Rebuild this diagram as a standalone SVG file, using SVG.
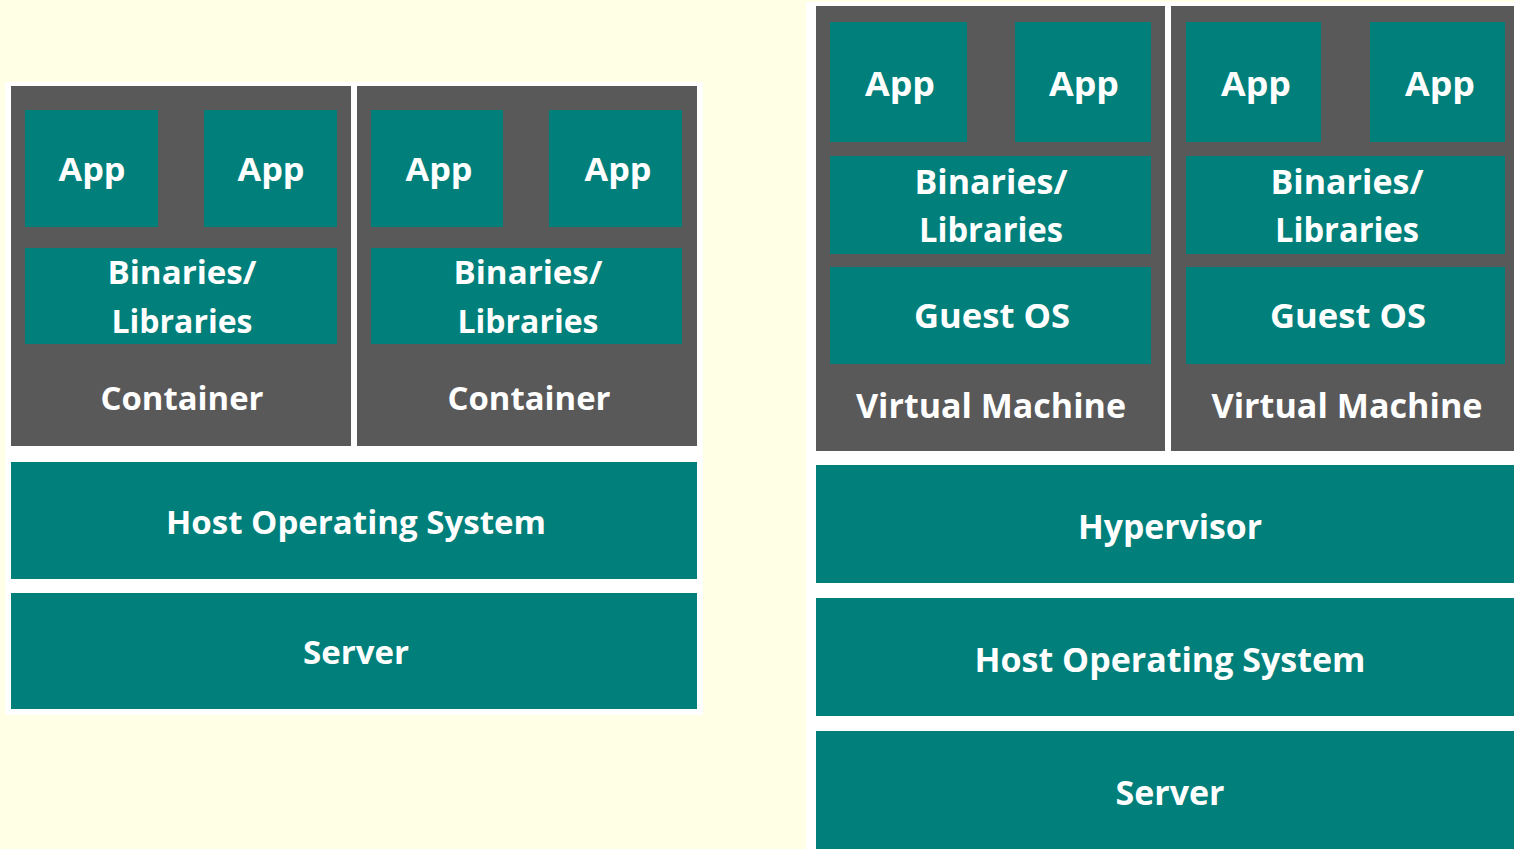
<svg xmlns="http://www.w3.org/2000/svg" width="1514" height="849" viewBox="0 0 1514 849">
  <style>
    .bg { fill: #FFFFE6; }
    .panel { fill: #FFFFFF; }
    .shell { fill: #595959; }
    .layer { fill: #007F7B; }
    .lbl { fill: #FFFFFF; font-family: "Open Sans", "Liberation Sans", sans-serif; font-weight: 700; text-anchor: middle; }
    .s34 { font-size: 33px; }
    .s36 { font-size: 34px; }
  </style>

  <rect class="bg" x="0" y="0" width="1514" height="849"/>

  <!-- Container stack -->
  <rect class="panel" x="5" y="82" width="698" height="633"/>

  <g id="container-1">
    <rect class="shell" x="11" y="86" width="340" height="360"/>
    <text class="lbl s34" x="182" y="410" textLength="163" lengthAdjust="spacingAndGlyphs">Container</text>
  </g>
  <g id="container-1-app-1">
    <rect class="layer" x="25" y="110" width="133" height="117"/>
    <text class="lbl s34" x="92" y="181" textLength="67" lengthAdjust="spacingAndGlyphs">App</text>
  </g>
  <g id="container-1-app-2">
    <rect class="layer" x="204" y="110" width="133" height="117"/>
    <text class="lbl s34" x="271" y="181" textLength="67" lengthAdjust="spacingAndGlyphs">App</text>
  </g>
  <g id="container-1-bins">
    <rect class="layer" x="25" y="248" width="312" height="96"/>
    <text class="lbl s34" x="182" y="284" textLength="149" lengthAdjust="spacingAndGlyphs">Binaries/</text>
    <text class="lbl s34" x="182" y="333" textLength="141" lengthAdjust="spacingAndGlyphs">Libraries</text>
  </g>

  <g id="container-2">
    <rect class="shell" x="357" y="86" width="340" height="360"/>
    <text class="lbl s34" x="529" y="410" textLength="163" lengthAdjust="spacingAndGlyphs">Container</text>
  </g>
  <g id="container-2-app-1">
    <rect class="layer" x="371" y="110" width="132" height="117"/>
    <text class="lbl s34" x="439" y="181" textLength="67" lengthAdjust="spacingAndGlyphs">App</text>
  </g>
  <g id="container-2-app-2">
    <rect class="layer" x="549" y="110" width="133" height="117"/>
    <text class="lbl s34" x="618" y="181" textLength="67" lengthAdjust="spacingAndGlyphs">App</text>
  </g>
  <g id="container-2-bins">
    <rect class="layer" x="371" y="248" width="311" height="96"/>
    <text class="lbl s34" x="528" y="284" textLength="149" lengthAdjust="spacingAndGlyphs">Binaries/</text>
    <text class="lbl s34" x="528" y="333" textLength="141" lengthAdjust="spacingAndGlyphs">Libraries</text>
  </g>

  <g id="container-host-os">
    <rect class="layer" x="11" y="462" width="686" height="117"/>
    <text class="lbl s34" x="356" y="534" textLength="380" lengthAdjust="spacingAndGlyphs">Host Operating System</text>
  </g>
  <g id="container-server">
    <rect class="layer" x="11" y="593" width="686" height="116"/>
    <text class="lbl s34" x="356" y="664" textLength="106" lengthAdjust="spacingAndGlyphs">Server</text>
  </g>

  <!-- Virtual machine stack -->
  <rect class="panel" x="806" y="2" width="720" height="860"/>

  <g id="vm-1">
    <rect class="shell" x="816" y="6" width="349" height="445"/>
    <text class="lbl s36" x="991" y="418" textLength="270" lengthAdjust="spacingAndGlyphs">Virtual Machine</text>
  </g>
  <g id="vm-1-app-1">
    <rect class="layer" x="830" y="22" width="137" height="120"/>
    <text class="lbl s36" x="900" y="96" textLength="70" lengthAdjust="spacingAndGlyphs">App</text>
  </g>
  <g id="vm-1-app-2">
    <rect class="layer" x="1015" y="22" width="136" height="120"/>
    <text class="lbl s36" x="1084" y="96" textLength="70" lengthAdjust="spacingAndGlyphs">App</text>
  </g>
  <g id="vm-1-bins">
    <rect class="layer" x="830" y="156" width="321" height="98"/>
    <text class="lbl s36" x="991" y="194" textLength="153" lengthAdjust="spacingAndGlyphs">Binaries/</text>
    <text class="lbl s36" x="991" y="242" textLength="144" lengthAdjust="spacingAndGlyphs">Libraries</text>
  </g>
  <g id="vm-1-guest-os">
    <rect class="layer" x="830" y="267" width="321" height="97"/>
    <text class="lbl s36" x="992" y="328" textLength="156" lengthAdjust="spacingAndGlyphs">Guest OS</text>
  </g>

  <g id="vm-2">
    <rect class="shell" x="1171" y="6" width="353" height="445"/>
    <text class="lbl s36" x="1347" y="418" textLength="271" lengthAdjust="spacingAndGlyphs">Virtual Machine</text>
  </g>
  <g id="vm-2-app-1">
    <rect class="layer" x="1186" y="22" width="135" height="120"/>
    <text class="lbl s36" x="1256" y="96" textLength="70" lengthAdjust="spacingAndGlyphs">App</text>
  </g>
  <g id="vm-2-app-2">
    <rect class="layer" x="1370" y="22" width="135" height="120"/>
    <text class="lbl s36" x="1440" y="96" textLength="70" lengthAdjust="spacingAndGlyphs">App</text>
  </g>
  <g id="vm-2-bins">
    <rect class="layer" x="1186" y="156" width="319" height="98"/>
    <text class="lbl s36" x="1347" y="194" textLength="153" lengthAdjust="spacingAndGlyphs">Binaries/</text>
    <text class="lbl s36" x="1347" y="242" textLength="144" lengthAdjust="spacingAndGlyphs">Libraries</text>
  </g>
  <g id="vm-2-guest-os">
    <rect class="layer" x="1186" y="267" width="319" height="97"/>
    <text class="lbl s36" x="1348" y="328" textLength="156" lengthAdjust="spacingAndGlyphs">Guest OS</text>
  </g>

  <g id="hypervisor">
    <rect class="layer" x="816" y="465" width="708" height="118"/>
    <text class="lbl s36" x="1170" y="539" textLength="184" lengthAdjust="spacingAndGlyphs">Hypervisor</text>
  </g>
  <g id="vm-host-os">
    <rect class="layer" x="816" y="598" width="708" height="118"/>
    <text class="lbl s36" x="1170" y="672" textLength="391" lengthAdjust="spacingAndGlyphs">Host Operating System</text>
  </g>
  <g id="vm-server">
    <rect class="layer" x="816" y="731" width="708" height="130"/>
    <text class="lbl s36" x="1170" y="805" textLength="109" lengthAdjust="spacingAndGlyphs">Server</text>
  </g>

  <!-- no connectors in this layered diagram -->
  <g id="connectors"/>
</svg>
